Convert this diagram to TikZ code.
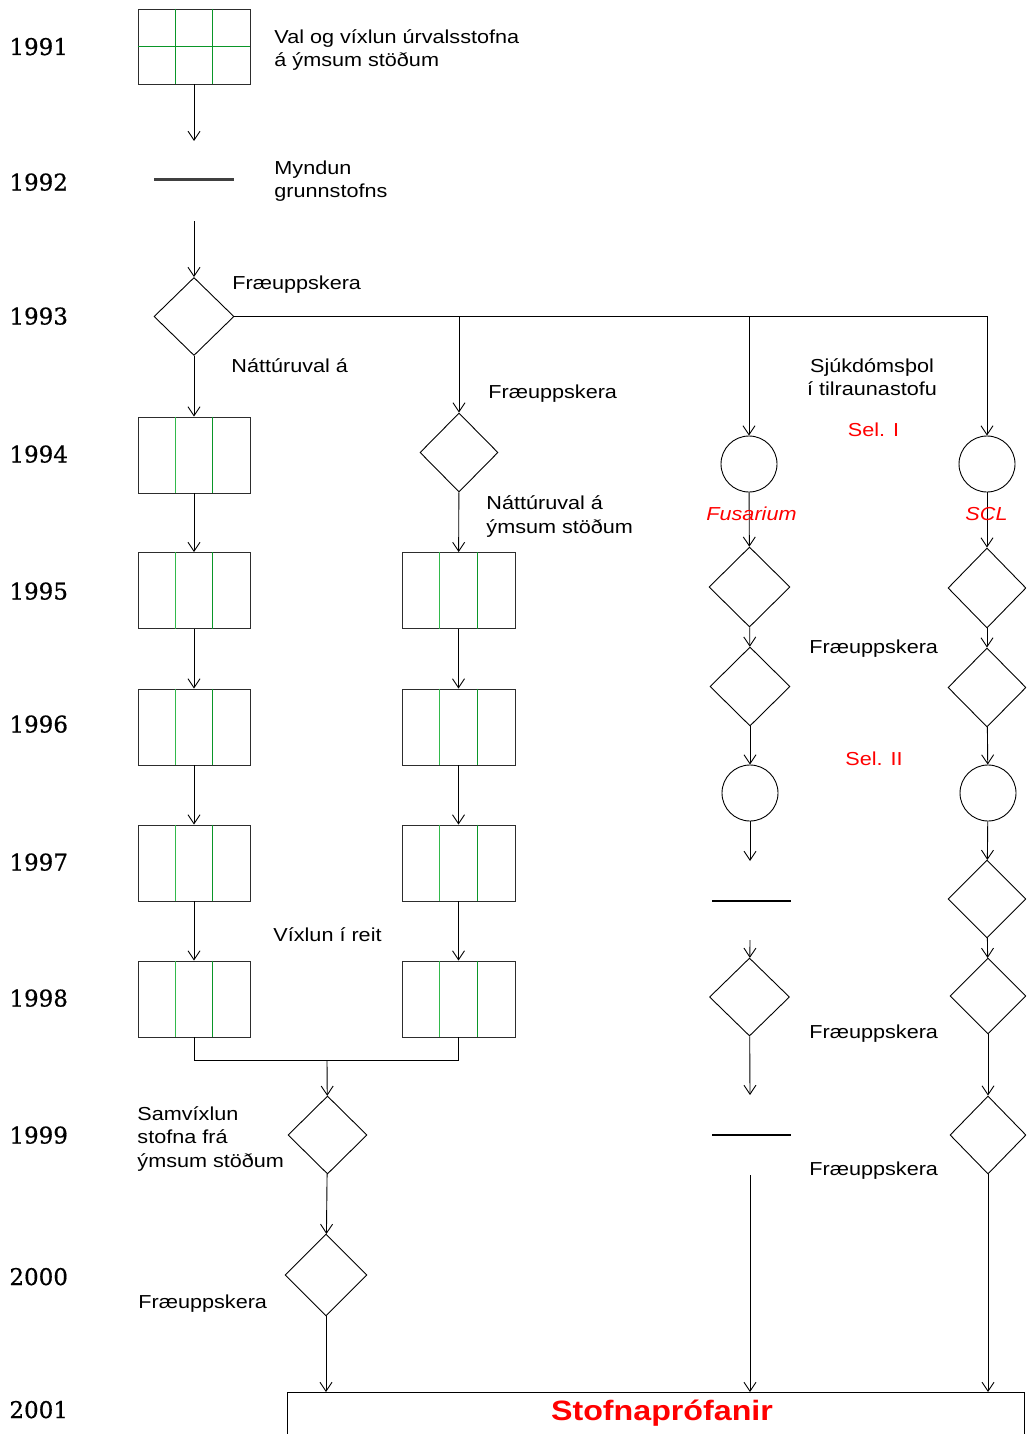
\documentclass[tikz,border=0pt]{standalone}
\usepackage{fontspec}
\usetikzlibrary{shapes.geometric,arrows.meta,calc}
\newfontfamily\lblfont[FakeStretch=1.15]{Liberation Sans}
\newfontfamily\yrfont[FakeBold=0.6]{DejaVu Serif}
\definecolor{boxgray}{RGB}{45,45,45}
\definecolor{bargray}{RGB}{64,64,64}
\definecolor{grnA}{RGB}{50,185,75}
\definecolor{grnB}{RGB}{10,150,40}
\definecolor{selred}{RGB}{255,0,0}
\tikzset{
  arr/.style={-{Straight Barb[length=9pt,width=12pt]}},
  plotbox/.style={rectangle,draw=boxgray,minimum width=112pt,minimum height=76pt,inner sep=0pt},
  seedbox/.style={diamond,draw,minimum width=80pt,minimum height=79pt,inner sep=0pt},
  selcirc/.style={circle,draw,minimum size=56pt,inner sep=0pt},
  stockbar/.style={draw=bargray,line width=3pt},
  grnline/.style={line width=1.3pt},
  lbl/.style={font=\lblfont\fontsize{18.8pt}{23.5pt}\selectfont,inner sep=0pt,anchor=base west,align=left},
  redlbl/.style={lbl,text=selred,anchor=base,align=center},
  yr/.style={font=\yrfont\fontsize{23pt}{26pt}\selectfont,inner sep=0pt,anchor=base west},
}
\begin{document}
\begin{tikzpicture}[x=1pt,y=1pt,yscale=-1,line width=0.9pt]
\useasboundingbox (0,0) rectangle (1026,1434);
\clip (0,0) rectangle (1026,1434);
% years
\node[yr] (y91) at (9,55) {1991};
\node[yr] (y92) at (9,190.5) {1992};
\node[yr] (y93) at (9,324.5) {1993};
\node[yr] (y94) at (9,462.5) {1994};
\node[yr] (y95) at (9,599.5) {1995};
\node[yr] (y96) at (9,732.5) {1996};
\node[yr] (y97) at (9,870.5) {1997};
\node[yr] (y98) at (9,1006.5) {1998};
\node[yr] (y99) at (9,1143.5) {1999};
\node[yr] (y00) at (9,1285) {2000};
\node[yr] (y01) at (9,1418) {2001};
%Shape: Rectangle
\node[plotbox,minimum height=75pt] (b91) at (194,46.5) {};
\draw[grnline,grnB] (b91.west) -- (b91.east);
\draw[grnline,grnB] ($(b91.north west)!1/3!(b91.north east)$) -- ($(b91.south west)!1/3!(b91.south east)$);
\draw[grnline,grnB] ($(b91.north west)!2/3!(b91.north east)$) -- ($(b91.south west)!2/3!(b91.south east)$);
\coordinate (a92) at (194,141);
\coordinate (g92) at (194,180);
\coordinate (s92) at (194,221);
\draw[arr] (b91) -- (a92);
%Straight Lines
\draw[stockbar] ($(g92)+(-40,0)$) -- ($(g92)+(40,0)$);
%Shape: Diamond
\node[seedbox,minimum height=78pt] (d93) at (194,316.5) {};
\draw[arr] (s92) -- (d93);
% left column
\node[plotbox] (b94a) at (194,455) {};
\node[plotbox] (b95a) at (194,590.5) {};
\node[plotbox] (b96a) at (194,727) {};
\node[plotbox] (b97a) at (194,863) {};
\node[plotbox] (b98a) at (194,999) {};
% second column
\node[seedbox,minimum width=78pt] (d94b) at (459,452.5) {};
\node[plotbox,minimum width=113pt] (b95b) at (458.5,590.5) {};
\node[plotbox,minimum width=113pt] (b96b) at (458.5,727) {};
\node[plotbox,minimum width=113pt] (b97b) at (458.5,863) {};
\node[plotbox,minimum width=113pt] (b98b) at (458.5,999) {};
\foreach \b in {b94a,b95a,b96a,b97a,b98a,b95b,b96b,b97b,b98b}{
  \draw[grnline,grnA] ($(\b.north west)!1/3!(\b.north east)$) -- ($(\b.south west)!1/3!(\b.south east)$);
  \draw[grnline,grnB] ($(\b.north west)!2/3!(\b.north east)$) -- ($(\b.south west)!2/3!(\b.south east)$);
}
\draw[arr] (d93) -- (b94a);
\draw[arr] (b94a) -- (b95a);
\draw[arr] (b95a) -- (b96a);
\draw[arr] (b96a) -- (b97a);
\draw[arr] (b97a) -- (b98a);
\draw[arr] (d94b) -- (b95b);
\draw[arr] (b95b) -- (b96b);
\draw[arr] (b96b) -- (b97b);
\draw[arr] (b97b) -- (b98b);
% merging
\coordinate (mrg) at (327,1060);
\draw (b98a.south) |- (mrg) -| (b98b.south);
\node[seedbox,minimum width=79pt,minimum height=78pt] (d99) at (327.5,1135) {};
\node[seedbox,minimum width=82pt,minimum height=82pt] (d00) at (326,1275) {};
\draw[arr] (mrg) -- (d99);
\draw[arr] (d99) -- (d00);
%Shape: Rectangle
\node[rectangle,draw,minimum width=737pt,minimum height=100pt,inner sep=0pt,anchor=north west] (test) at (287,1392) {};
\draw[arr] (d00) -- (d00 |- test.north);
% third column
\node[selcirc] (c94c) at (749,464) {};
\node[seedbox,minimum width=81pt,minimum height=80pt] (d95c) at (749.5,587) {};
\node[seedbox] (d96c) at (750,686.5) {};
\node[selcirc] (c96c) at (750,793) {};
\coordinate (e97c) at (750,861);
\coordinate (g97c) at (751.5,901);
\coordinate (s98c) at (750,940);
\node[seedbox,minimum height=78pt] (d98c) at (749.5,997) {};
\coordinate (e99c) at (750,1095);
\coordinate (g99c) at (751.5,1135);
\coordinate (s00c) at (750,1175);
\draw[arr] (c94c) -- (d95c);
\draw[arr] (d95c) -- (d96c);
\draw[arr] (d96c) -- (c96c);
\draw[arr] (c96c) -- (e97c);
\draw[stockbar,draw=black,line width=1.8pt] ($(g97c)+(-39.5,0)$) -- ($(g97c)+(39.5,0)$);
\draw[arr] (s98c) -- (d98c);
\draw[arr] (d98c) -- (e99c);
\draw[stockbar,draw=black,line width=1.8pt] ($(g99c)+(-39.5,0)$) -- ($(g99c)+(39.5,0)$);
\draw[arr] (s00c) -- (s00c |- test.north);
% fourth column
\node[selcirc] (c94d) at (987,464) {};
\node[seedbox,minimum width=78pt,minimum height=80pt] (d95d) at (987,588) {};
\node[seedbox,minimum width=78pt] (d96d) at (987,687.5) {};
\node[selcirc] (c96d) at (988,793) {};
\node[seedbox,minimum width=78pt,minimum height=78pt] (d97d) at (987,899) {};
\node[seedbox,minimum width=76pt,minimum height=76pt] (d98d) at (988,996) {};
\node[seedbox,minimum width=76pt,minimum height=78pt] (d99d) at (988,1135) {};
\draw[arr] (c94d) -- (d95d);
\draw[arr] (d95d) -- (d96d);
\draw[arr] (d96d) -- (c96d);
\draw[arr] (c96d) -- (d97d);
\draw[arr] (d97d) -- (d98d);
\draw[arr] (d98d) -- (d99d);
\draw[arr] (d99d) -- (d99d |- test.north);
% branches from 1993
\draw[arr] (d93.east) -| (c94d);
\draw[arr] (d93.east -| d94b) -- (d94b);
\draw[arr] (d93.east -| c94c) -- (c94c);
% labels (multi-line ones sit on the baseline of their last line)
\node[lbl] (t91) at (274,67) {Val og víxlun úrvalsstofna\\á ýmsum stöðum};
\node[lbl] (t92) at (274,197.5) {Myndun\\grunnstofns};
\node[lbl] (t93) at (232,289.5) {Fræuppskera};
\node[lbl] (t93n) at (231,372) {Náttúruval á};
\node[lbl] (t94b) at (488,398) {Fræuppskera};
\node[lbl] (t95b) at (486,533) {Náttúruval á\\ýmsum stöðum};
\node[lbl,anchor=base,align=center] (t94c) at (872,395.5) {Sjúkdómsþol\\í tilraunastofu};
\node[redlbl] (sel1) at (873.5,436) {Sel. I};
\node[redlbl,font=\lblfont\itshape\fontsize{18.8pt}{23.5pt}\selectfont] (fus) at (751.5,520) {Fusarium};
\node[redlbl,font=\lblfont\itshape\fontsize{18.8pt}{23.5pt}\selectfont] (scl) at (986.5,520) {SCL};
\node[lbl] (t96c) at (809,653) {Fræuppskera};
\node[redlbl] (sel2) at (874,765) {Sel. II};
\node[lbl] (t98) at (273,941) {Víxlun í reit};
\node[lbl] (t98c) at (809,1038) {Fræuppskera};
\node[lbl] (t99) at (137,1167) {Samvíxlun\\stofna frá\\ýmsum stöðum};
\node[lbl] (t99c) at (809,1175) {Fræuppskera};
\node[lbl] (t00) at (138,1308) {Fræuppskera};
\node[lbl,anchor=base,text=selred,font=\lblfont\bfseries\fontsize{28pt}{32pt}\selectfont] (ttest) at (662,1420) {Stofnaprófanir};
\end{tikzpicture}
\end{document}
